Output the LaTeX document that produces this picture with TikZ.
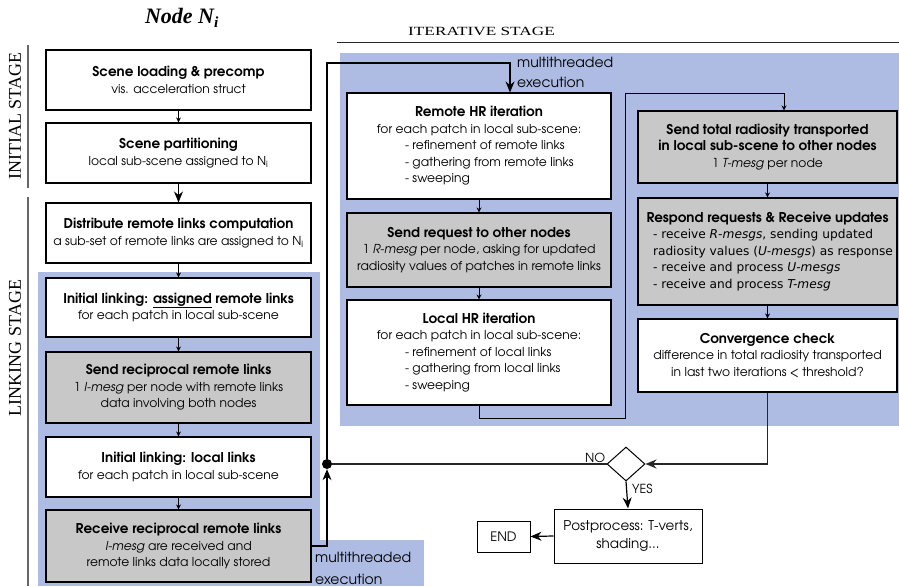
\documentclass[tikz,border=0pt]{standalone}
\usepackage{fontspec}
\setsansfont{TeX Gyre Adventor}
\newfontfamily\dvs{DejaVu Sans}
\newfontfamily\serifL{Liberation Serif}
\usetikzlibrary{shapes.geometric,arrows.meta}
\definecolor{bluebg}{RGB}{174,187,227}
\definecolor{boxgray}{RGB}{200,200,200}
\newcommand{\ttl}[1]{{\bfseries\fontsize{13.5}{17}\selectfont #1}}
\newcommand{\lst}[2]{\makebox[#1][l]{#2}}
\newcommand{\dl}[1]{\makebox[229pt][l]{\dvs\fontsize{12.2}{15.7}\selectfont #1}}
\tikzset{
 fbox/.style={draw=black, line width=1.1pt, fill=white, align=center, inner sep=0pt},
 gfbox/.style={fbox, fill=boxgray},
 sarr/.style={draw=black, line width=0.9pt, -{Stealth[length=5pt,width=5pt]}},
 barr/.style={draw=black, line width=1.2pt, -{Stealth[length=11pt,width=9pt]}},
 conn/.style={draw=black!85, line width=1.3pt},
 stagelbl/.style={font=\serifL\fontsize{18}{18}\selectfont, inner sep=0pt},
 mtlbl/.style={font=\sffamily\fontsize{14}{14}\selectfont, anchor=west, inner sep=0pt}
}
\begin{document}
\begin{tikzpicture}[x=1pt,y=-1pt,font=\sffamily\fontsize{12.3}{16.5}\selectfont]
\useasboundingbox (0,0) rectangle (899,586);
% backgrounds
\fill[bluebg] (38,272) rectangle (320,586);
\fill[bluebg] (320,540) rectangle (424,586);
\fill[bluebg] (340,53) rectangle (899,426);
% stage labels
\draw[black!60, line width=1.2pt] (28,45) -- (28,188);
\draw[black!60, line width=1.2pt] (28,197) -- (28,586);
\draw[black!85, line width=1pt] (337,43) -- (899,43);
\node[stagelbl, rotate=90] (initlbl) at (15,116) {INITIAL STAGE};
\node[stagelbl, rotate=90] (linklbl) at (15,348) {LINKING STAGE};
\node[font=\serifL\fontsize{12.5}{12.5}\selectfont, inner sep=0pt] (iterlbl) at (481.5,31) {\scalebox{1.38}[1]{ITERATIVE STAGE}};
\node[font=\serifL\bfseries\itshape\fontsize{22}{22}\selectfont] (title) at (182,18) {Node N\textsubscript{i}};
% left column
\node[fbox, minimum width=265, minimum height=60] (b1) at (178.5,80) {\ttl{Scene loading \& precomp}\\vis. acceleration struct};
\node[fbox, minimum width=265, minimum height=60] (b2) at (178.5,153) {\ttl{Scene partitioning}\\local sub-scene assigned to N\textsubscript{i}};
\node[fbox, minimum width=265, minimum height=60] (b3) at (178.5,233) {\ttl{Distribute remote links computation}\\a sub-set of remote links are assigned to N\textsubscript{i}};
\node[fbox, minimum width=265, minimum height=59] (b4) at (178.5,307.5) {\ttl{Initial linking: \underline{assigned} remote links}\\for each patch in local sub-scene};
\node[gfbox, minimum width=265, minimum height=71] (b5) at (178.5,387.5) {\ttl{Send reciprocal remote links}\\1 \textit{I-mesg} per node with remote links\\data involving both nodes};
\node[fbox, minimum width=265, minimum height=60] (b6) at (178.5,467) {\ttl{Initial linking: local links}\\for each patch in local sub-scene};
\node[gfbox, minimum width=265, minimum height=72] (b7) at (178.5,546) {\ttl{Receive reciprocal remote links}\\\textit{I-mesg} are received and\\remote links data locally stored};
% middle column
\node[fbox, minimum width=264, minimum height=106] (rhr) at (479,146) {\ttl{Remote HR iteration}\\for each patch in local sub-scene:\\\lst{148pt}{- refinement of remote links}\\\lst{148pt}{- gathering from remote links}\\\lst{148pt}{- sweeping}};
\node[gfbox, minimum width=264, minimum height=74] (sr) at (479,250) {\ttl{Send request to other nodes}\\1 \textit{R-mesg} per node, asking for updated\\radiosity values of patches in remote links};
\node[fbox, minimum width=264, minimum height=105] (lhr) at (479,352.5) {\ttl{Local HR iteration}\\for each patch in local sub-scene:\\\lst{148pt}{- refinement of local links}\\\lst{148pt}{- gathering from local links}\\\lst{148pt}{- sweeping}};
% right column
\node[gfbox, minimum width=259, minimum height=72] (st) at (767.5,147) {\ttl{Send total radiosity transported}\\\ttl{in local sub-scene to other nodes}\\1 \textit{T-mesg} per node};
\node[gfbox, minimum width=259, minimum height=107] (rr) at (767.5,251.5) {\ttl{Respond requests \& Receive updates}\\\dl{- receive \textit{R-mesgs}, sending updated}\\\dl{radiosity values (\textit{U-mesgs}) as response}\\\dl{- receive and process \textit{U-mesgs}}\\\dl{- receive and process \textit{T-mesg}}};
\node[fbox, minimum width=259, minimum height=73] (cc) at (767.5,355.5) {\ttl{Convergence check}\\difference in total radiosity transported\\in last two iterations < threshold?};
% decision and end
\node[diamond, draw=black, line width=1pt, fill=white, minimum width=38, minimum height=34, inner sep=0pt] (dia) at (626,464) {};
\node[fbox, line width=1pt, minimum width=148, minimum height=54, font=\sffamily\fontsize{13.5}{18}\selectfont] (pp) at (628,536) {Postprocess: T-verts,\\shading...};
\node[fbox, line width=1pt, minimum width=53, minimum height=31, font=\sffamily\fontsize{13}{13}\selectfont] (endb) at (503.5,536.5) {END};
\node[circle, fill=black, inner sep=0pt, minimum size=10pt] (dot) at (327,464) {};
% labels
\node[mtlbl] (mt1) at (517,62) {multithreaded};
\node[mtlbl] (mt2) at (517,82) {execution};
\node[mtlbl] (mt3) at (315,557) {multithreaded};
\node[mtlbl] (mt4) at (315,579) {execution};
\node[font=\sffamily\fontsize{12.5}{12.5}\selectfont, anchor=south east, inner sep=1pt] (nolbl) at (dia.west) {NO};
\node[font=\sffamily\fontsize{12.5}{12.5}\selectfont, anchor=north west, inner sep=2pt, xshift=4pt] (yeslbl) at (dia.south) {YES};
% coordinates
\coordinate (mttop) at (510,63);
\coordinate (loopa) at (625,418);
\coordinate (loopb) at (784,93);
\coordinate (b7out) at (327,546);
% connectors left
\draw[sarr] (b1) -- (b2);
\draw[barr] (b2) -- (b3);
\draw[sarr] (b3) -- (b4);
\draw[sarr] (b4) -- (b5);
\draw[sarr] (b5) -- (b6);
\draw[sarr] (b6) -- (b7);
\draw[barr] (b7.east) -- (b7out) -- (dot.south);
\draw[barr] (dot.north) |- (mttop) -- (mttop |- rhr.north);
% middle
\draw[sarr] (rhr) -- (sr);
\draw[sarr] (sr) -- (lhr);
\draw[sarr] (lhr.south) |- (loopa) |- (loopb) -- (loopb |- st.north);
% right
\draw[sarr] (st) -- (rr);
\draw[sarr] (rr) -- (cc);
\draw[conn, -{Stealth[length=11pt,width=9pt]}] (cc.south) |- (dia.east);
\draw[conn] (dot.east) -- (dia.west);
\draw[barr] (dia.south) -- (pp.north);
\draw[barr] (pp.west) -- (endb.east);
\end{tikzpicture}
\end{document}
